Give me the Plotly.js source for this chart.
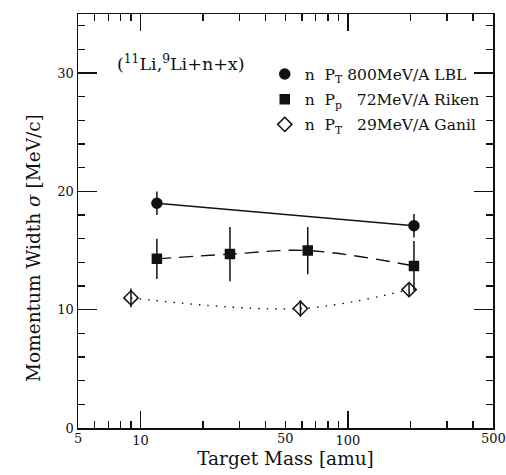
<!DOCTYPE html>
<html>
<head>
<meta charset="utf-8">
<script src="https://cdn.plot.ly/plotly-3.0.1.min.js"></script>
<style>html,body{margin:0;padding:0;background:#fff;}#chart{width:506px;height:475px;}</style>
</head>
<body>
<div id="chart"></div>
<script>
// LBL 800 MeV/A (transverse)
const lblMass = [12, 208];
const lblWidth = [19.0, 17.1];
const lblErr = [1.0, 1.0];
// Riken 72 MeV/A (parallel)
const rikenMass = [12, 27, 64, 208];
const rikenWidth = [14.3, 14.7, 15.0, 13.7];
const rikenErr = [1.7, 2.3, 2.0, 2.1];
// Ganil 29 MeV/A (transverse)
const ganilMass = [9, 59, 197];
const ganilWidth = [11.0, 10.1, 11.7];
const ganilErr = [0.8, 0.7, 0.6];

// x tick labels
const xExtraLabels = [5, 50, 500];          // labels not on decade ticks
const xAllLabels = [5, 10, 50, 100, 500];   // every labelled position
const xMinorTicks = [6, 7, 8, 9, 20, 30, 40, 50, 60, 70, 80, 90, 200, 300, 400];

const legendNames = [
  'n\u00a0\u00a0P<sub>T</sub> 800MeV/A LBL',
  'n\u00a0\u00a0P<sub>p</sub>\u00a0\u00a0 72MeV/A Riken',
  'n\u00a0\u00a0P<sub>T</sub>\u00a0\u00a0 29MeV/A Ganil'
];

const FONT = 'DejaVu Serif, serif';
const ink = '#111';
const paper = '#ffffff';
const TICKFONT = {family: FONT, size: 13, color: ink};

function lineTrace(x, y, dash, shape) {
  return {x: x, y: y, mode: 'lines', showlegend: false, hoverinfo: 'skip',
    line: {color: ink, width: 1.4, dash: dash, shape: shape, smoothing: 1}};
}
function markTrace(x, y, e, sym, size, name, grp) {
  return {x: x, y: y, mode: 'markers', name: name, legendgroup: grp,
    marker: {symbol: sym, size: size, color: ink, line: {color: ink, width: 1.5}},
    error_y: {type: 'data', array: e, visible: true, color: ink, thickness: 1.5, width: 0}};
}
function makeData() {
  return [
    lineTrace(lblMass, lblWidth, 'solid', 'linear'),
    lineTrace(rikenMass, rikenWidth, '14px,8px', 'spline'),
    lineTrace(ganilMass, ganilWidth, '1.5px,7px', 'spline'),
    markTrace(lblMass, lblWidth, lblErr, 'circle', 10, legendNames[0], 'a'),
    markTrace(rikenMass, rikenWidth, rikenErr, 'square', 9, legendNames[1], 'b'),
    markTrace(ganilMass, ganilWidth, ganilErr, 'diamond-open', 11, legendNames[2], 'c')
  ];
}

function labelAnns(vals) {
  return vals.map(v => ({
    xref: 'x', yref: 'paper', x: Math.log10(v), y: 0, xanchor: 'center', yanchor: 'top',
    yshift: -1, text: String(v), showarrow: false, font: TICKFONT
  }));
}

// variant: 'A' decade major + D1 minor, 'B' D1 major (labels as annotations), 'C' decade major + array minor
function makeLayout(variant) {
  let xaxis = {
    type: 'log', range: [Math.log10(5), Math.log10(500)],
    gridcolor: paper, zerolinecolor: paper,
    showline: true, linecolor: ink, linewidth: 1.5, mirror: 'ticks',
    ticks: 'inside', tickwidth: 1.3, tickcolor: ink, tickfont: TICKFONT,
    title: {text: 'Target Mass [amu]', font: {family: FONT, size: 18.5}, standoff: 4}
  };
  let anns;
  if (variant === 'A') {
    Object.assign(xaxis, {tickmode: 'linear', tick0: 0, dtick: 1, ticklen: 17,
      minor: {dtick: 'D1', ticks: 'inside', ticklen: 7, tickwidth: 1.3, tickcolor: ink, gridcolor: paper}});
    anns = labelAnns(xExtraLabels);
  } else if (variant === 'B') {
    Object.assign(xaxis, {tickmode: 'linear', tick0: 0, dtick: 'D1', ticklen: 7, showticklabels: false});
    anns = labelAnns(xAllLabels);
  } else {
    Object.assign(xaxis, {tickmode: 'linear', tick0: 0, dtick: 1, ticklen: 17,
      minor: {tickmode: 'array', tickvals: xMinorTicks, ticks: 'inside', ticklen: 7, tickwidth: 1.3, tickcolor: ink, gridcolor: paper}});
    anns = labelAnns(xExtraLabels);
  }
  anns.push({
    xref: 'paper', yref: 'paper', x: 0.248, y: 0.882, xanchor: 'center', yanchor: 'middle',
    text: '(<sup>11</sup>Li,<sup>9</sup>Li+n+x)', showarrow: false,
    font: {family: FONT, size: 17.5, color: ink}
  });
  anns.push({
    xref: 'paper', yref: 'paper', x: -0.106, y: 0.435, xanchor: 'center', yanchor: 'middle',
    textangle: -90, text: 'Momentum Width <i>σ</i> [MeV/c]', showarrow: false,
    font: {family: FONT, size: 18.5, color: ink}
  });
  return {
    width: 506, height: 475,
    margin: {l: 78, r: 13, t: 14, b: 47},
    paper_bgcolor: paper, plot_bgcolor: paper,
    font: {family: FONT, color: ink, size: 13},
    xaxis: xaxis,
    yaxis: {
      range: [0, 35], gridcolor: paper, zerolinecolor: paper,
      showline: true, linecolor: ink, linewidth: 1.5, mirror: 'ticks',
      dtick: 10, ticks: 'inside', ticklen: 19, tickwidth: 1.3, tickcolor: ink,
      tickfont: TICKFONT,
      minor: {dtick: 2, ticks: 'inside', ticklen: 7, tickwidth: 1.3, tickcolor: ink, gridcolor: paper}
    },
    showlegend: true,
    legend: {
      x: 0.45, xanchor: 'left', y: 0.895, yanchor: 'top',
      bgcolor: 'rgba(0,0,0,0)', borderwidth: 0, traceorder: 'grouped',
      font: {family: FONT, size: 15.5, color: ink},
      itemclick: false, itemdoubleclick: false, tracegroupgap: 2
    },
    annotations: anns
  };
}

function countTicks(axLetter) {
  const sel = '#chart path.' + axLetter + 'tick';
  return Array.from(document.querySelectorAll(sel)).filter(p => (p.getAttribute('d') || '').length > 2).length;
}

async function draw() {
  const variants = ['A', 'B', 'C'];
  for (let i = 0; i < variants.length; i++) {
    try {
      await Plotly.newPlot('chart', makeData(), makeLayout(variants[i]), {staticPlot: true, displayModeBar: false});
      if (countTicks('x') >= 8 && countTicks('y') >= 8) return;
    } catch (e) { /* try next variant */ }
    if (i < variants.length - 1) Plotly.purge('chart');
  }
}
draw();
</script>
</body>
</html>
